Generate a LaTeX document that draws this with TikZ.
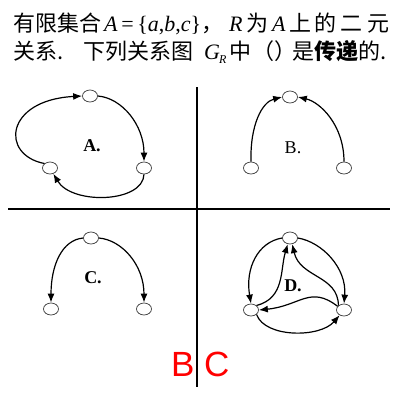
\documentclass[tikz,border=0pt]{standalone}
\usepackage{fontspec}
\setmainfont{Liberation Serif}
\newfontfamily\cjk{Noto Sans CJK SC}
\newfontfamily\tnr{Liberation Serif}
\newfontfamily\lsans{Liberation Sans}
\usetikzlibrary{arrows.meta,shapes.geometric}
\begin{document}
\begin{tikzpicture}[x=1pt,y=-1pt,
  vert/.style={draw=black!80,line width=0.7pt,ellipse,minimum width=15pt,minimum height=12pt,inner sep=0pt,fill=white},
  edge/.style={draw=black,line width=1.2pt,-{Latex[length=9pt,width=7pt]}},
  rule/.style={draw=black,line width=1.5pt},
  hdr/.style={anchor=base west,inner sep=0pt,font=\fontsize{22}{22}\selectfont\cjk},
  mth/.style={anchor=base west,inner sep=0pt,font=\fontsize{22}{22}\selectfont\tnr},
  lbl/.style={inner sep=0pt,font=\fontsize{18}{18}\selectfont\tnr\bfseries},
  ans/.style={anchor=base west,inner sep=0pt,text=red,font=\fontsize{35}{35}\selectfont\lsans}]
\useasboundingbox[fill=white] (0,0) rectangle (400,400);
% header line 1
\node[hdr] (h1) at (13,31) {有限集合};
\node[mth] (h2) at (104,31) {\itshape A\upshape\,=\,\{\itshape a\upshape,\itshape b\upshape,\itshape c\upshape\}};
\node[hdr] (h3) at (201,31) {，};
\node[mth] (h4) at (229,31) {\itshape R};
\node[hdr] (h5) at (246,31) {为};
\node[mth] (h6) at (272,31) {\itshape A};
\node[hdr] (h7) at (289,31) {上};
\node[hdr] (h8) at (314,31) {的};
\node[hdr] (h9) at (340,31) {二};
\node[hdr] (h10) at (367,31) {元};
% header line 2
\node[hdr] (g1) at (13,59) {关系.};
\node[hdr] (g2) at (83,59) {下列关系图};
\node[mth] (g3) at (204,59) {\itshape G\kern-1pt\raisebox{-4pt}{\fontsize{12}{12}\selectfont R}};
\node[hdr] (g4) at (229,59) {中};
\node[hdr] (g5) at (252,59) {（）};
\node[hdr] (g6) at (292,59) {是\textbf{传递}的.};
% rules
\coordinate (vt) at (197,87);
\coordinate (vb) at (197,387);
\coordinate (hl) at (8,209);
\coordinate (hr) at (390,209);
\draw[rule] (vt) -- (vb);
\draw[rule] (hl) -- (hr);
% A
\node[vert] (a1) at (90,96) {};
\node[vert] (a2) at (50,168) {};
\node[vert] (a3) at (144,168) {};
\node[lbl] (la) at (92,146) {A.};
\draw[edge] (a2.north west) .. controls (0,155) and (5,100) .. (a1.west);
\draw[edge] (a1.east) .. controls (122,98) and (144,125) .. (a3.north);
\draw[edge] (a3.south) .. controls (143,203) and (72,205) .. (a2.-60);
% B
\node[vert] (b1) at (290,97) {};
\node[vert] (b2) at (251,168) {};
\node[vert] (b3) at (344,168) {};
\node[lbl,font=\fontsize{18}{18}\selectfont\tnr] (lb) at (293,148) {B.};
\draw[edge] (b2.north) .. controls (250,125) and (262,102) .. (b1.west);
\draw[edge] (b3.north) .. controls (344,125) and (320,102) .. (b1.east);
% C
\node[vert] (c1) at (91,238) {};
\node[vert] (c2) at (51,309) {};
\node[vert] (c3) at (144,309) {};
\node[lbl] (lc) at (93,278) {C.};
\draw[edge] (c1.west) .. controls (62,240) and (51,265) .. (c2.north);
\draw[edge] (c1.east) .. controls (122,240) and (144,265) .. (c3.north);
% D
\node[vert] (d1) at (290,238) {};
\node[vert] (d2) at (251,310) {};
\node[vert] (d3) at (344,310) {};
\node[lbl] (ld) at (293,286) {D.};
\draw[edge] (d1.west) .. controls (258,242) and (245,268) .. (d2.north);
\draw[edge] (d1.east) .. controls (322,242) and (347,268) .. (d3.north);
\draw[edge] (d2.north east) .. controls (285,298) and (280,270) .. (d1.-110);
\draw[edge] (d3.north west) .. controls (338,275) and (300,278) .. (d1.-70);
\draw[edge] (d3.150) .. controls (310,285) and (300,306) .. (d2.east);
\draw[edge] (d2.south east) .. controls (265,338) and (320,338) .. (d3.-130);
% answer
\node[ans] (ansB) at (171,376) {B};
\node[ans] (ansC) at (204,376) {C};
\end{tikzpicture}
\end{document}
